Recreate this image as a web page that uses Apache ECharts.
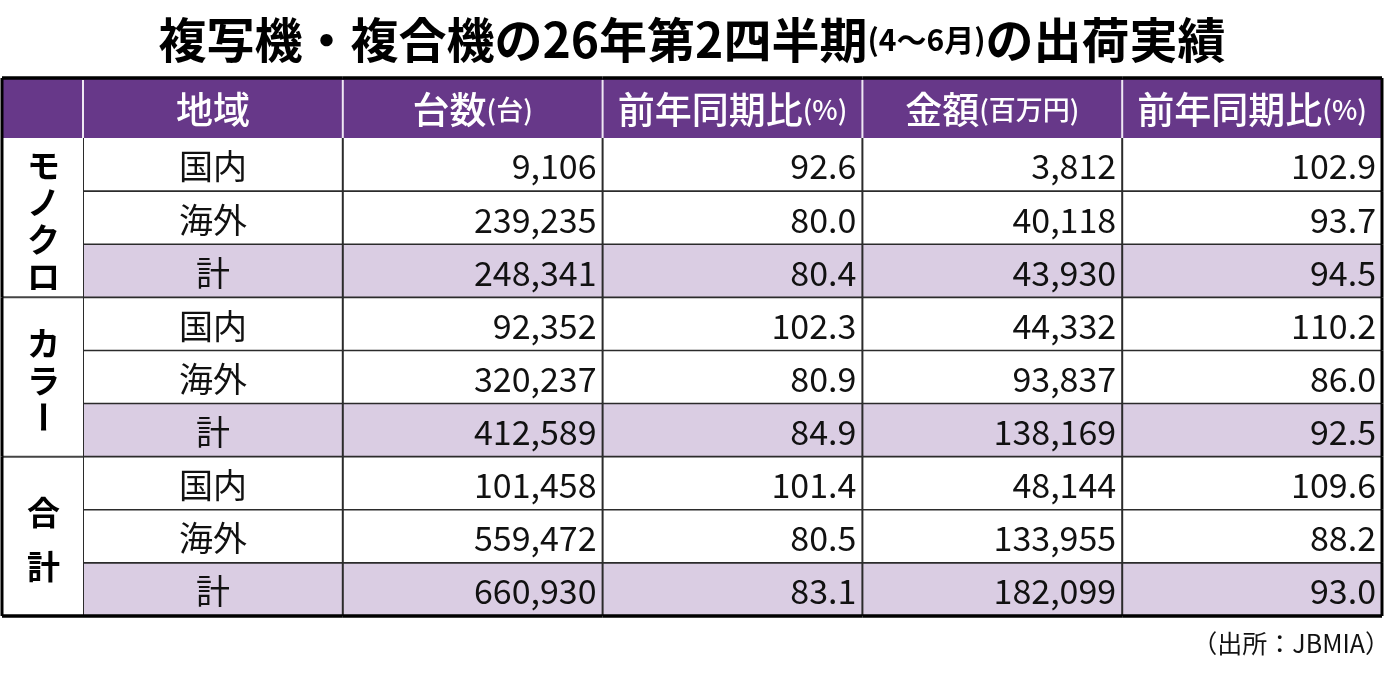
<!DOCTYPE html>
<html><head><meta charset="utf-8">
<script src="https://cdn.jsdelivr.net/npm/echarts@6/dist/echarts.min.js"></script>
<style>html,body{margin:0;padding:0;background:#fff;}#c{width:1384px;height:673px;}</style>
</head><body><div id="c"></div>
<script>
// ---- data ----
const titleMain1 = '複写機・複合機の26年第2四半期';
const titleSub = '(4〜6月)';
const titleMain2 = 'の出荷実績';
const sourceNote = '（出所：JBMIA）';
const groups = ['モノクロ', 'カラー', '合計'];
const regions = ['国内', '海外', '計'];
const headerMain = ['地域', '台数', '前年同期比', '金額', '前年同期比'];
const headerUnit = ['', '(台)', '(%)', '(百万円)', '(%)'];
const unitCount = [9106, 239235, 248341, 92352, 320237, 412589, 101458, 559472, 660930];
const unitYoY = [92.6, 80.0, 80.4, 102.3, 80.9, 84.9, 101.4, 80.5, 83.1];
const amount = [3812, 40118, 43930, 44332, 93837, 138169, 48144, 133955, 182099];
const amountYoY = [102.9, 93.7, 94.5, 110.2, 86.0, 92.5, 109.6, 88.2, 93.0];

// ---- style ----
const PURPLE = '#673889';
const LIGHT = '#dacde3';
const LINE = '#2b2b2b';
const FONT = '"Noto Sans CJK JP", "Noto Sans", sans-serif';

const fmtInt = v => v.toLocaleString('en-US');
const rowKeys = [];
groups.forEach(g => regions.forEach(r => rowKeys.push(g + r)));
const cellText = rowKeys.map((k, r) => [
  regions[r % regions.length], fmtInt(unitCount[r]), unitYoY[r].toFixed(1),
  fmtInt(amount[r]), amountYoY[r].toFixed(1)
]);
const colKeys = headerMain.map((h, i) => 'c' + i);

function cellBox(api) {
  const c = api.coord([api.value(0), api.value(1)]);
  const s = api.size([1, 1]);
  return { x: c[0] - s[0] / 2, y: c[1] - s[1] / 2, w: s[0], h: s[1], cx: c[0], cy: c[1] };
}
function line(x1, y1, x2, y2, color, width, z) {
  return { type: 'line', shape: { x1, y1, x2, y2 }, style: { stroke: color, lineWidth: width }, z2: z || 5 };
}

function renderHeadLeft(params, api) {
  const b = cellBox(api);
  return { type: 'group', children: [
    { type: 'rect', shape: { x: b.x, y: b.y, width: b.w, height: b.h }, style: { fill: PURPLE } },
    line(b.x, b.y, b.x + b.w, b.y, '#000', 3.5, 10),
    line(b.x, b.y, b.x, b.y + b.h, '#000', 3, 10)
  ]};
}
function renderHead(params, api) {
  const i = api.value(0);
  const b = cellBox(api);
  const unit = headerUnit[i];
  const children = [
    { type: 'rect', shape: { x: b.x, y: b.y, width: b.w, height: b.h }, style: { fill: PURPLE } },
    line(b.x, b.y + 2, b.x, b.y + b.h, '#efe8f3', 2, 6),
    line(b.x, b.y, b.x + b.w, b.y, '#000', 3.5, 10),
    { type: 'text', x: b.cx, y: b.cy + 2, z2: 8, style: {
      text: '{m|' + headerMain[i] + '}' + (unit ? '{u|' + unit + '}' : ''),
      align: 'center', verticalAlign: 'middle', fill: '#fff',
      rich: {
        m: { fontSize: 37, fontWeight: 500, fontFamily: FONT, fill: '#fff' },
        u: { fontSize: 27, fontWeight: 500, fontFamily: FONT, fill: '#fff' }
      }
    }}
  ];
  if (i === headerMain.length - 1) children.push(line(b.x + b.w, b.y, b.x + b.w, b.y + b.h, '#000', 3, 10));
  return { type: 'group', children };
}
function renderGroup(params, api) {
  const g = api.value(1);
  const b = cellBox(api);
  const chars = groups[g].split('');
  const n = chars.length;
  const gap = n > 2 ? 37 : 54;
  const children = [
    { type: 'rect', shape: { x: b.x, y: b.y, width: b.w, height: b.h }, style: { fill: '#fff' } },
    line(b.x, b.y, b.x, b.y + b.h, '#000', 3, 10)
  ];
  if (g > 0) children.push(line(b.x, b.y, b.x + b.w, b.y, '#444', 2, 6));
  if (g === groups.length - 1) children.push(line(b.x, b.y + b.h, b.x + b.w, b.y + b.h, '#000', 3.5, 10));
  chars.forEach((ch, k) => {
    children.push({
      type: 'text', x: b.cx + 1, y: b.cy + 3 + (k - (n - 1) / 2) * gap,
      rotation: ch === 'ー' ? -Math.PI / 2 : 0, z2: 8,
      style: { text: ch, x: 0, y: 0, align: 'center', verticalAlign: 'middle',
        fill: '#000', fontSize: 33, fontWeight: 'bold', fontFamily: FONT }
    });
  });
  return { type: 'group', children };
}
function renderBody(params, api) {
  const c = api.value(0), r = api.value(1);
  const b = cellBox(api);
  const isTotal = (r % regions.length) === regions.length - 1;
  const children = [
    { type: 'rect', shape: { x: b.x, y: b.y, width: b.w, height: b.h }, style: { fill: isTotal ? LIGHT : '#fff' } },
    line(b.x, b.y, b.x, b.y + b.h, LINE, 2, 6)
  ];
  if (r > 0) children.push(line(b.x, b.y, b.x + b.w, b.y, LINE, 1.6, 6));
  if (c === colKeys.length - 1) children.push(line(b.x + b.w, b.y, b.x + b.w, b.y + b.h, '#000', 3, 10));
  if (r === rowKeys.length - 1) children.push(line(b.x, b.y + b.h, b.x + b.w, b.y + b.h, '#000', 3.5, 10));
  const txt = cellText[r][c];
  children.push({
    type: 'text', x: c === 0 ? b.cx : b.x + b.w - 6, y: b.cy + 2, z2: 8,
    style: { text: txt, align: c === 0 ? 'center' : 'right', verticalAlign: 'middle',
      fill: '#111', fontSize: 34, fontFamily: FONT, fontWeight: 'normal' }
  });
  return { type: 'group', children };
}

const headTop = 78, headH = 60, bodyTop = 138, bodyH = 478, leftX = 2, leftW = 81, rightGap = 2;
const hideAxis = { show: false };

const bodyData = [];
rowKeys.forEach((k, r) => colKeys.forEach((ck, c) => bodyData.push([c, r])));

const option = {
  animation: false,
  backgroundColor: '#fff',
  title: [
    { left: 'center', top: 16, padding: 0, text: '{a|' + titleMain1 + '}{b|' + titleSub + '}{a|' + titleMain2 + '}',
      textStyle: { rich: {
        a: { fontSize: 48, fontWeight: 'bold', fontFamily: FONT, color: '#000' },
        b: { fontSize: 30, fontWeight: 'bold', fontFamily: FONT, color: '#000' }
      }}},
    { right: -6, top: 631, padding: 0, text: sourceNote,
      textStyle: { fontSize: 25, fontWeight: 'normal', fontFamily: FONT, color: '#111' } }
  ],
  grid: [
    { left: leftX, top: headTop, width: leftW, height: headH },
    { left: leftX + leftW, top: headTop, right: rightGap, height: headH },
    { left: leftX, top: bodyTop, width: leftW, height: bodyH },
    { left: leftX + leftW, top: bodyTop, right: rightGap, height: bodyH }
  ],
  xAxis: [
    { type: 'category', gridIndex: 0, data: ['blank'], ...hideAxis },
    { type: 'category', gridIndex: 1, data: colKeys, ...hideAxis },
    { type: 'category', gridIndex: 2, data: ['group'], ...hideAxis },
    { type: 'category', gridIndex: 3, data: colKeys, ...hideAxis }
  ],
  yAxis: [
    { type: 'category', gridIndex: 0, data: ['head'], inverse: true, ...hideAxis },
    { type: 'category', gridIndex: 1, data: ['head'], inverse: true, ...hideAxis },
    { type: 'category', gridIndex: 2, data: groups, inverse: true, ...hideAxis },
    { type: 'category', gridIndex: 3, data: rowKeys, inverse: true, ...hideAxis }
  ],
  series: [
    { type: 'custom', xAxisIndex: 0, yAxisIndex: 0, renderItem: renderHeadLeft, data: [[0, 0]], silent: true },
    { type: 'custom', xAxisIndex: 1, yAxisIndex: 1, renderItem: renderHead, data: colKeys.map((k, i) => [i, 0]), silent: true },
    { type: 'custom', xAxisIndex: 3, yAxisIndex: 3, renderItem: renderBody, data: bodyData, silent: true, z: 2 },
    { type: 'custom', xAxisIndex: 2, yAxisIndex: 2, renderItem: renderGroup, data: groups.map((g, i) => [0, i]), silent: true, z: 3 }
  ]
};
const chart = echarts.init(document.getElementById('c'), null, { renderer: 'canvas' });
chart.setOption(option);
</script>
</body></html>
